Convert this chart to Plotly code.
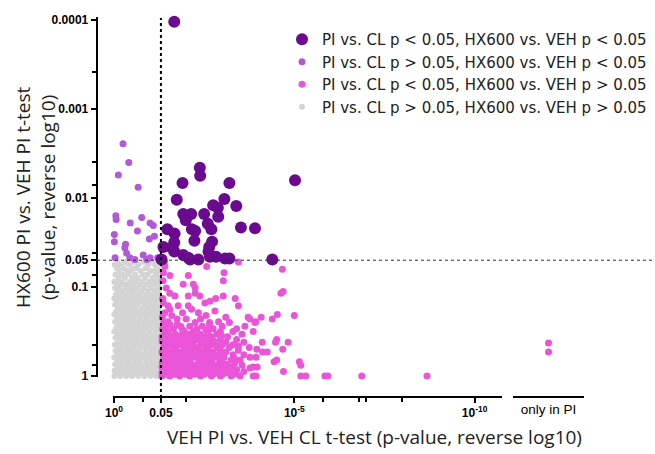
import plotly.graph_objects as go

# ---------------- data (values as -log10(p)) ----------------
dark_x = [1.67, 5.02, 2.38, 2.39, 1.90, 3.20, 1.74, 3.06, 3.39, 2.75, 2.88, 2.89, 1.92, 2.14,
          2.50, 1.99, 2.60, 2.70, 3.52, 3.91, 1.48, 1.68, 2.16, 2.25, 2.23, 2.72, 1.37, 1.67,
          1.61, 1.67, 2.64, 2.62, 1.92, 2.06, 2.34, 2.66, 2.83, 3.08, 3.20, 4.39, 1.32, 2.11]
dark_y = [3.98, 2.20, 2.34, 2.25, 2.17, 2.17, 1.98, 1.99, 1.91, 1.92, 1.89, 1.79, 1.82, 1.82,
          1.82, 1.75, 1.71, 1.65, 1.67, 1.66, 1.65, 1.60, 1.65, 1.63, 1.52, 1.51, 1.45, 1.50,
          1.44, 1.40, 1.45, 1.40, 1.36, 1.33, 1.31, 1.34, 1.34, 1.32, 1.32, 1.31, 1.31, 1.31]

light_x = [0.25, 0.41, 0.12, 0.67, 0.05, 0.06, 0.45, 0.77, 1.00, 1.09, 0.65, 0.01, 0.01,
           0.32, 0.30, 0.98, 1.12, 0.35, 0.03, 0.44, 0.81, 1.00, 1.21, 0.91, 0.58]
light_y = [2.61, 2.40, 2.26, 2.12, 1.80, 1.76, 1.72, 1.78, 1.72, 1.69, 1.63, 1.59, 1.51,
           1.48, 1.44, 1.54, 1.57, 1.38, 1.33, 1.33, 1.36, 1.33, 1.33, 1.31, 1.31]

PINK_ROWS = [
    (1.28, [1.34, 1.40, 3.45]),
    (1.23, [1.41, 2.57]),
    (1.20, [4.67]),
    (1.16, [1.37, 3.05]),
    (1.13, [1.55, 2.06]),
    (1.07, [1.36, 3.03]),
    (1.03, [1.92, 2.20]),
    (0.99, [1.45, 2.25]),
    (0.95, [4.69]),
    (0.93, [1.55, 2.25, 4.63]),
    (0.90, [1.69, 2.06, 2.38, 3.03]),
    (0.87, [1.35, 2.82, 3.36]),
    (0.84, [2.66]),
    (0.82, [1.37, 2.52]),
    (0.79, [1.50, 1.78, 2.06, 3.45]),
    (0.75, [1.55, 2.15]),
    (0.73, [2.80]),
    (0.71, [1.41, 1.90, 2.34]),
    (0.69, [4.53]),
    (0.68, [5.00, 1.60, 2.55]),
    (0.66, [4.08, 3.72, 1.34, 3.10]),
    (0.64, [4.39, 3.77, 1.75, 2.00, 2.40]),
    (0.61, [3.93, 1.50, 2.90]),
    (0.60, [3.91, 1.38, 2.25, 2.65, 3.20]),
    (0.58, [1.55, 1.75, 2.65]),
    (0.56, [3.63, 1.45, 1.85, 2.10, 2.45, 3.00]),
    (0.53, [1.35, 1.65, 2.30, 2.75, 3.40]),
    (0.52, [1.90, 2.55]),
    (0.50, [3.86, 1.50, 1.95, 2.20, 2.60, 2.95, 3.30]),
    (0.47, [1.40, 1.70, 2.05, 2.40, 2.85, 3.55]),
    (0.455, [1.52, 1.85, 2.25, 2.62, 2.98]),
    (0.44, [1.33, 1.58, 1.88, 2.15, 2.50, 2.70, 3.15]),
    (0.41, [4.51, 1.45, 1.75, 2.00, 2.30, 2.60, 2.95, 3.40]),
    (0.395, [1.33, 1.55, 2.10, 2.42, 2.75]),
    (0.38, [4.11, 4.48, 4.83, 1.36, 1.62, 1.90, 2.20, 2.50, 2.80, 3.10, 3.60]),
    (0.35, [1.50, 1.80, 2.05, 2.40, 2.70, 3.00, 3.30]),
    (0.335, [1.42, 1.72, 2.15, 2.55, 2.90, 3.45]),
    (0.32, [1.38, 1.65, 1.95, 2.25, 2.55, 2.85, 3.20, 3.75]),
    (0.30, [3.96, 4.68]),
    (0.29, [1.45, 1.72, 2.00, 2.35, 2.62, 2.95, 3.45]),
    (0.27, [4.25, 4.12, 1.33, 1.58, 1.85, 2.15, 2.45, 2.75, 3.10]),
    (0.255, [1.36, 1.65, 1.95, 2.40, 2.70, 3.00]),
    (0.24, [1.50, 1.78, 2.05, 2.30, 2.60, 2.90, 3.30, 3.60]),
    (0.21, [3.77, 3.94, 1.38, 1.65, 1.92, 2.20, 2.50, 2.80, 3.05]),
    (0.195, [1.55, 1.82, 2.10, 2.60, 2.92, 3.35]),
    (0.18, [4.51, 1.48, 1.75, 2.00, 2.35, 2.65, 2.95, 3.25, 3.50]),
    (0.16, [4.44, 5.14]),
    (0.15, [1.34, 1.60, 1.85, 2.12, 2.45, 2.72, 3.00, 3.35]),
    (0.135, [1.38, 1.75, 2.05, 2.38, 2.68, 3.10]),
    (0.12, [5.18, 1.45, 1.70, 1.98, 2.25, 2.55, 2.85, 3.15, 3.55]),
    (0.10, [3.86, 3.97, 1.33, 1.58, 1.82, 2.10, 2.38, 2.65, 2.95, 3.30]),
    (0.09, [3.77]),
    (0.085, [1.50, 1.78, 2.10, 2.40, 2.65, 2.90]),
    (0.07, [1.42, 1.68, 1.95, 2.20, 2.50, 2.78, 3.05, 3.40]),
    (0.05, [4.70, 1.35, 1.55, 1.80, 2.05, 2.32, 2.60, 2.90, 3.20, 3.60]),
    (0.035, [1.33, 1.60, 1.90, 2.15, 2.40, 2.62, 2.88, 3.10]),
    (0.02, [1.45, 1.70, 1.98, 2.25, 2.50, 2.75, 3.00, 3.35]),
    (0.00, [3.86, 3.94, 5.18, 5.32, 5.85, 5.93, 6.87, 8.68, 1.33, 1.55, 1.82, 2.10, 2.40,
            2.70, 2.95, 3.25, 3.50]),
]

GRAY_ROWS = [
    (1.28, [0.10, 0.31, 0.55, 0.83, 1.05, 1.22]),
    (1.25, [0.02, 0.19, 0.42, 0.68, 0.95, 1.14, 1.27]),
    (1.21, [0.08, 0.27, 0.50, 0.61, 0.88, 1.20]),
    (1.18, [0.15, 0.36, 0.47, 0.74, 1.01, 1.12, 1.26]),
    (1.14, [0.04, 0.22, 0.39, 0.58, 0.80, 0.93, 1.17]),
    (1.10, [0.12, 0.30, 0.51, 0.66, 0.86, 1.07, 1.24]),
    (1.06, [0.01, 0.18, 0.44, 0.59, 0.77, 0.99, 1.15, 1.28]),
    (1.03, [0.09, 0.26, 0.37, 0.53, 0.71, 0.90, 1.09, 1.21]),
    (0.99, [0.03, 0.15, 0.33, 0.48, 0.64, 0.82, 1.01, 1.18, 1.27]),
    (0.95, [0.11, 0.24, 0.41, 0.57, 0.75, 0.93, 1.12, 1.23]),
    (0.91, [0.05, 0.19, 0.35, 0.52, 0.69, 0.87, 1.04, 1.19]),
    (0.87, [0.01, 0.13, 0.29, 0.46, 0.62, 0.79, 0.97, 1.14, 1.27]),
    (0.84, [0.08, 0.23, 0.40, 0.56, 0.73, 0.90, 1.07, 1.22]),
    (0.80, [0.03, 0.17, 0.33, 0.50, 0.66, 0.84, 1.00, 1.16, 1.28]),
    (0.76, [0.11, 0.27, 0.44, 0.60, 0.77, 0.94, 1.11, 1.24]),
    (0.72, [0.05, 0.20, 0.37, 0.53, 0.70, 0.88, 1.05, 1.19]),
    (0.69, [0.01, 0.14, 0.31, 0.47, 0.63, 0.81, 0.98, 1.15, 1.27]),
    (0.65, [0.09, 0.24, 0.41, 0.57, 0.74, 0.91, 1.09, 1.22]),
    (0.61, [0.03, 0.18, 0.34, 0.50, 0.67, 0.85, 1.02, 1.18, 1.28]),
    (0.57, [0.12, 0.28, 0.44, 0.61, 0.78, 0.95, 1.12, 1.25]),
    (0.54, [0.06, 0.21, 0.38, 0.54, 0.71, 0.88, 1.06, 1.20]),
    (0.50, [0.01, 0.15, 0.31, 0.48, 0.65, 0.82, 0.99, 1.16, 1.27]),
    (0.46, [0.09, 0.25, 0.42, 0.58, 0.75, 0.92, 1.10, 1.23]),
    (0.43, [0.04, 0.19, 0.35, 0.52, 0.69, 0.86, 1.03, 1.19]),
    (0.39, [0.12, 0.28, 0.45, 0.62, 0.79, 0.96, 1.13, 1.26]),
    (0.35, [0.02, 0.17, 0.33, 0.50, 0.66, 0.83, 1.00, 1.17, 1.28]),
    (0.32, [0.09, 0.24, 0.41, 0.57, 0.74, 0.91, 1.08, 1.22]),
    (0.28, [0.04, 0.19, 0.36, 0.52, 0.69, 0.87, 1.04, 1.19]),
    (0.24, [0.11, 0.27, 0.44, 0.61, 0.78, 0.95, 1.12, 1.26]),
    (0.21, [0.01, 0.16, 0.32, 0.49, 0.66, 0.83, 1.00, 1.16, 1.28]),
    (0.17, [0.08, 0.23, 0.40, 0.57, 0.73, 0.90, 1.07, 1.22]),
    (0.13, [0.03, 0.18, 0.35, 0.52, 0.69, 0.86, 1.03, 1.19]),
    (0.10, [0.11, 0.27, 0.44, 0.60, 0.77, 0.94, 1.11, 1.25]),
    (0.06, [0.02, 0.16, 0.32, 0.49, 0.66, 0.83, 1.00, 1.17, 1.28]),
    (0.03, [0.08, 0.24, 0.41, 0.57, 0.74, 0.91, 1.08, 1.22]),
    (0.00, [0.01, 0.17, 0.34, 0.50, 0.67, 0.84, 1.01, 1.17, 1.27]),
]

pink_x = [x for _, xs in PINK_ROWS for x in xs]
pink_y = [y for y, xs in PINK_ROWS for _ in xs]
gray_x = [x for _, xs in GRAY_ROWS for x in xs]
gray_y = [y for y, xs in GRAY_ROWS for _ in xs]

only_x = ["only in PI", "only in PI"]
only_y = [0.37, 0.27]

x_tickvals = [0, 1.301, 5, 10]
x_ticktext = ["<b>10<sup>0</sup></b>", "<b>0.05</b>", "<b>10<sup>-5</sup></b>", "<b>10<sup>-10</sup></b>"]
x_minor = [0.8, 2.0, 5.79, 6.8, 7.0, 8.0]
y_tickvals = [4, 3, 2, 1.301, 1, 0]
y_ticktext = ["<b>0.0001</b>", "<b>0.001</b>", "<b>0.01</b>", "<b>0.05</b>", "<b>0.1</b>", "<b>1</b>"]
y_minor = [3.42, 2.40, 2.15, 1.38, 1.14, 0.35, 0.12]
threshold = 1.301

names = ["PI vs. CL p < 0.05, HX600 vs. VEH p < 0.05",
         "PI vs. CL p > 0.05, HX600 vs. VEH p < 0.05",
         "PI vs. CL p < 0.05, HX600 vs. VEH p > 0.05",
         "PI vs. CL p > 0.05, HX600 vs. VEH p > 0.05"]
C_DARK, C_LIGHT, C_PINK, C_GRAY = "#6a0a8e", "#b25ad6", "#ea55d8", "#d4d4d4"

W, H = 655, 454
px = lambda p: p / W
py = lambda p: 1 - p / H

fig = go.Figure()
fig.add_trace(go.Scatter(x=gray_x, y=gray_y, mode="markers", name=names[3], legendrank=4,
                         marker=dict(size=6, color=C_GRAY), cliponaxis=False))
fig.add_trace(go.Scatter(x=pink_x, y=pink_y, mode="markers", name=names[2], legendrank=3,
                         marker=dict(size=7, color=C_PINK), cliponaxis=False))
fig.add_trace(go.Scatter(x=only_x, y=only_y, mode="markers", showlegend=False,
                         xaxis="x2", yaxis="y",
                         marker=dict(size=7, color=C_PINK), cliponaxis=False))
fig.add_trace(go.Scatter(x=light_x, y=light_y, mode="markers", name=names[1], legendrank=2,
                         marker=dict(size=7, color=C_LIGHT), cliponaxis=False))
fig.add_trace(go.Scatter(x=dark_x, y=dark_y, mode="markers", name=names[0], legendrank=1,
                         marker=dict(size=12, color=C_DARK), cliponaxis=False))

tickfont = dict(family="Liberation Sans, Arial", size=12, color="black")
minor_common = dict(ticks="outside", ticklen=4, tickwidth=1.5, tickcolor="black", showgrid=False)

fig.update_layout(
    template="none",
    width=W, height=H,
    margin=dict(l=0, r=0, t=0, b=0, pad=0, autoexpand=False),
    paper_bgcolor="white", plot_bgcolor="white",
    xaxis=dict(domain=[px(113), px(502)], range=[-0.028, 10.76], anchor="free", position=py(397),
               automargin=False,
               showline=True, linecolor="black", linewidth=2, ticks="outside", ticklen=5,
               tickwidth=1.5, tickcolor="black", tickmode="array", tickvals=x_tickvals,
               ticktext=x_ticktext, tickfont=tickfont, showgrid=False, zeroline=False,
               minor=dict(tickmode="array", tickvals=x_minor, **minor_common)),
    xaxis2=dict(domain=[px(513), px(584)], anchor="free", position=py(397), type="category",
                automargin=False,
                range=[-0.5, 0.5], showline=True, linecolor="black", linewidth=2, ticks="",
                tickfont=dict(family="Liberation Sans, Arial", size=13.5, color="black"),
                showgrid=False, zeroline=False),
    yaxis=dict(domain=[py(377), py(17)], range=[-0.011, 4.034], anchor="free", position=px(96.7),
               automargin=False,
               showline=True, linecolor="black", linewidth=2, ticks="outside", ticklen=5,
               tickwidth=1.5, tickcolor="black", tickmode="array", tickvals=y_tickvals,
               ticktext=y_ticktext, tickfont=tickfont, showgrid=False, zeroline=False,
               minor=dict(tickmode="array", tickvals=y_minor, **minor_common)),
    legend=dict(x=px(282), y=py(23), xanchor="left", yanchor="top",
                font=dict(family="DejaVu Sans", size=15, color="#222"),
                bgcolor="rgba(0,0,0,0)", borderwidth=0, tracegroupgap=0),
    shapes=[
        dict(type="line", xref="x", yref="paper", x0=threshold, x1=threshold,
             y0=py(398), y1=py(18), line=dict(color="black", width=2, dash="dot"), layer="above"),
        dict(type="line", xref="paper", yref="y", x0=px(97), x1=px(652),
             y0=threshold, y1=threshold, line=dict(color="#333", width=1, dash="dot"), layer="above"),
    ],
    annotations=[
        dict(text="HX600 PI vs. VEH PI t-test<br>(p-value, reverse log10)", textangle=-90,
             xref="paper", yref="paper", x=px(36), y=py(197), showarrow=False,
             xanchor="center", yanchor="middle",
             font=dict(family="Open Sans", size=19, color="#222")),
        dict(text="VEH PI vs. VEH CL t-test (p-value, reverse log10)",
             xref="paper", yref="paper", x=px(375), y=py(437), showarrow=False,
             xanchor="center", yanchor="middle",
             font=dict(family="Open Sans", size=19, color="#222")),
    ],
)

fig.write_html("out.html", config={"displayModeBar": False},
               post_script="document.body.style.margin='0';document.body.style.overflow='hidden';")
